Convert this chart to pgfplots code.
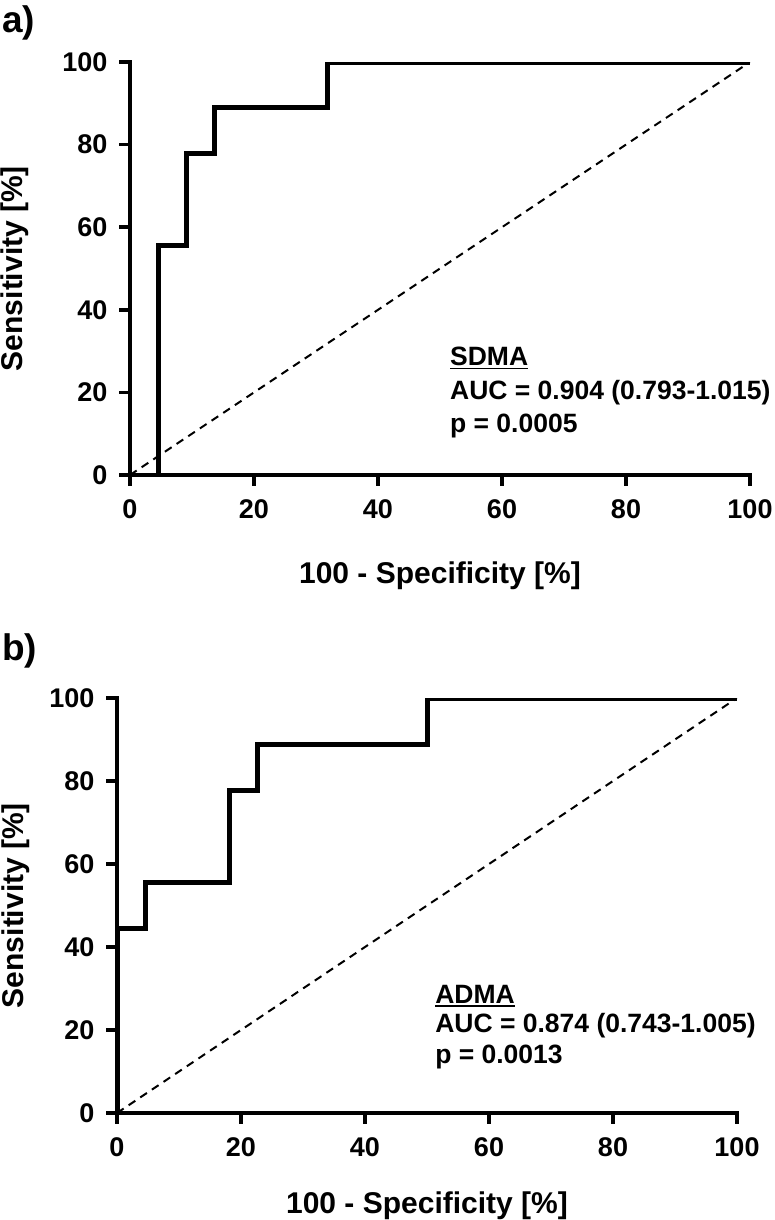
\documentclass[border=0pt]{standalone}
\usepackage{fontspec}
\setmainfont{Liberation Sans}
\usepackage{pgfplots}
\pgfplotsset{compat=1.18}

\newcommand\ulbox[1]{\setbox0\hbox{#1}\rlap{\rule[-3.5pt]{\wd0}{1.8pt}}\box0}

\pgfplotsset{
 rocstyle/.style={
  scale only axis, width=620pt, height=413pt,
  xmin=0,xmax=100,ymin=0,ymax=100,
  axis x line=bottom, axis y line=left,
  axis line style={-, line width=3.5pt, line cap=rect},
  xtick={0,20,...,100}, ytick={0,20,...,100},
  minor tick num=0,
  xtick align=outside, ytick align=outside,
  major tick length=10pt,
  every tick/.style={line width=3.5pt, black, line cap=butt},
  /pgf/number format/assume math mode=true,
  tick label style={font=\fontsize{27}{27}\selectfont\bfseries},
  xticklabel style={yshift=-11pt},
  yticklabel style={xshift=-9pt},
  label style={font=\fontsize{30}{30}\selectfont\bfseries},
  clip mode=individual,
 },
 roc/.style={line width=5pt, black, line join=miter},
 diag/.style={line width=2pt, black, dash pattern=on 8pt off 6pt},
}
\tikzset{ann/.style={anchor=base west, font=\fontsize{26.5}{26.5}\selectfont\bfseries, inner sep=0pt}}
\newcommand\rocticks{%
  \pgfplotsinvokeforeach{0,20,40,60,80,100}{%
    \draw[line width=3.5pt, line cap=butt] (axis cs:##1,0) -- ++(0pt,-11pt);
    \draw[line width=3.5pt, line cap=butt] (axis cs:0,##1) -- ++(-11pt,0pt);
  }}

\begin{document}
\begin{tikzpicture}
\useasboundingbox (0,0) rectangle (774pt,-1220pt);

\node[anchor=base west, inner sep=0pt, font=\fontsize{37}{37}\selectfont\bfseries] at (2pt,-33pt) {a)};
\node[anchor=base west, inner sep=0pt, font=\fontsize{37}{37}\selectfont\bfseries] at (2pt,-660pt) {b)};

\begin{axis}[rocstyle, at={(130pt,-475pt)}, anchor=south west,
  xlabel={100 - Specificity [\%]}, ylabel={Sensitivity [\%]},
  xlabel style={at={(axis description cs:0.5,-0.2615)}, anchor=base},
  ylabel style={at={(axis description cs:-0.1726,0.5)}, anchor=base}]
\addplot[diag] coordinates {(0,0) (100,100)};
\addplot[roc] coordinates {(0,0) (4.545,0) (4.545,55.56) (9.091,55.56) (9.091,77.78) (13.64,77.78) (13.64,88.89) (31.82,88.89) (31.82,100) (100,100)};
\rocticks
\node[ann] at (axis cs:51.6,26.4) {\ulbox{SDMA}};
\node[ann] at (axis cs:51.6,18.2) {AUC = 0.904 (0.793-1.015)};
\node[ann] at (axis cs:51.6,10.4) {p = 0.0005};
\end{axis}

\begin{axis}[rocstyle, height=415pt, at={(117pt,-1113pt)}, anchor=south west,
  xlabel={100 - Specificity [\%]}, ylabel={Sensitivity [\%]},
  xlabel style={at={(axis description cs:0.5,-0.2410)}, anchor=base},
  ylabel style={at={(axis description cs:-0.1516,0.5)}, anchor=base}]
\addplot[diag] coordinates {(0,0) (100,100)};
\addplot[roc] coordinates {(0,0) (0,44.44) (4.545,44.44) (4.545,55.56) (18.18,55.56) (18.18,77.78) (22.73,77.78) (22.73,88.89) (50,88.89) (50,100) (100,100)};
\rocticks
\node[ann] at (axis cs:51.3,26.5) {\ulbox{ADMA}};
\node[ann] at (axis cs:51.3,19.3) {AUC = 0.874 (0.743-1.005)};
\node[ann] at (axis cs:51.3,12.0) {p = 0.0013};
\end{axis}
\end{tikzpicture}
\end{document}
